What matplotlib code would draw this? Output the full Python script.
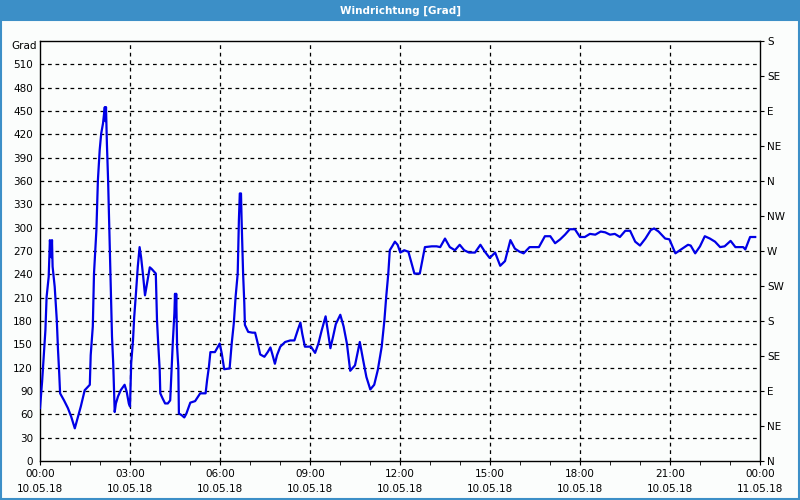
import matplotlib
matplotlib.use('Agg')
import matplotlib.pyplot as plt
from matplotlib.patches import Rectangle
from matplotlib.ticker import MultipleLocator

# Windrichtung 10.05.18, Stunden seit 00:00
hours = [0.00, 0.07, 0.13, 0.18, 0.22, 0.29, 0.33, 0.38, 0.40, 0.42, 0.49, 0.56, 0.60, 0.64, 0.67,
         0.80, 0.93, 1.04, 1.16, 1.24, 1.36, 1.49, 1.66, 1.69, 1.76, 1.80, 1.88, 1.93, 1.99, 2.04,
         2.10, 2.16, 2.18, 2.20, 2.23, 2.27, 2.30, 2.33, 2.36, 2.40, 2.44, 2.49, 2.53, 2.60, 2.69,
         2.82, 2.89, 2.96, 3.00, 3.04, 3.10, 3.14, 3.19, 3.26, 3.32, 3.37, 3.44, 3.50, 3.57, 3.66,
         3.72, 3.86, 3.90, 3.94, 3.99, 4.01, 4.08, 4.17, 4.26, 4.34, 4.39, 4.43, 4.48, 4.50, 4.52,
         4.54, 4.57, 4.61, 4.63, 4.72, 4.81, 4.88, 5.01, 5.17, 5.34, 5.52, 5.57, 5.63, 5.68, 5.83,
         5.99, 6.06, 6.14, 6.32, 6.39, 6.46, 6.52, 6.59, 6.61, 6.63, 6.66, 6.70, 6.72, 6.77, 6.81,
         6.83, 6.94, 7.08, 7.17, 7.26, 7.34, 7.48, 7.59, 7.68, 7.74, 7.83, 7.90, 8.01, 8.17, 8.34,
         8.48, 8.59, 8.68, 8.74, 8.83, 9.03, 9.17, 9.28, 9.39, 9.52, 9.59, 9.68, 9.77, 9.86, 10.01,
         10.12, 10.23, 10.34, 10.50, 10.66, 10.77, 10.88, 11.01, 11.14, 11.26, 11.39, 11.48, 11.54,
         11.61, 11.66, 11.74, 11.83, 11.92, 12.01, 12.14, 12.28, 12.48, 12.66, 12.83, 13.06, 13.22,
         13.34, 13.50, 13.66, 13.83, 13.99, 14.14, 14.30, 14.50, 14.68, 14.83, 14.99, 15.17, 15.34,
         15.50, 15.68, 15.83, 15.99, 16.12, 16.32, 16.63, 16.83, 17.01, 17.17, 17.34, 17.50, 17.66,
         17.83, 18.00, 18.16, 18.33, 18.51, 18.69, 18.84, 19.00, 19.16, 19.33, 19.51, 19.67, 19.84,
         20.00, 20.18, 20.36, 20.47, 20.62, 20.84, 20.98, 21.18, 21.33, 21.60, 21.69, 21.84, 22.00,
         22.16, 22.33, 22.50, 22.67, 22.82, 23.02, 23.18, 23.44, 23.51, 23.67, 23.84]
grad = [68, 102, 139, 168, 211, 237, 284, 262, 284, 250, 224, 181, 143, 113, 87,
        78, 68, 57, 42, 53, 70, 91, 98, 136, 173, 241, 297, 361, 400, 421,
        434, 455, 437, 455, 408, 361, 314, 271, 220, 160, 126, 63, 74, 83, 91,
        98, 89, 74, 70, 126, 155, 185, 211, 250, 275, 262, 237, 213, 229, 249,
        247, 241, 181, 151, 117, 87, 81, 74, 74, 78, 121, 155, 190, 215, 185,
        215, 147, 121, 61, 59, 56, 61, 75, 77, 87, 87, 104, 121, 140, 140,
        151, 138, 118, 119, 151, 177, 211, 241, 275, 310, 344, 344, 310, 241, 203,
        175, 166, 165, 165, 151, 137, 134, 140, 146, 138, 125, 136, 147, 153, 155,
        155, 168, 178, 164, 147, 147, 139, 151, 168, 186, 168, 145, 160, 176, 188,
        173, 151, 116, 123, 153, 130, 108, 92, 98, 117, 147, 181, 211,
        241, 271, 276, 282, 278, 268, 271, 269, 241, 241, 275, 276, 276,
        275, 286, 275, 271, 278, 271, 268, 268, 278, 269, 261, 268, 251,
        257, 284, 273, 269, 267, 275, 275, 289, 289, 280, 285, 291, 298,
        298, 288, 288, 292, 291, 295, 294, 291, 292, 288, 296, 296, 282,
        277, 286, 297, 299, 295, 286, 285, 267, 271, 278, 277, 267, 276,
        289, 286, 282, 275, 276, 283, 275, 275, 272, 288, 288]

x_ticks = [0, 3, 6, 9, 12, 15, 18, 21, 24]
x_labels = ['00:00\n10.05.18', '03:00\n10.05.18', '06:00\n10.05.18', '09:00\n10.05.18',
            '12:00\n10.05.18', '15:00\n10.05.18', '18:00\n10.05.18', '21:00\n10.05.18',
            '00:00\n11.05.18']
compass = ['N', 'NE', 'E', 'SE', 'S', 'SW', 'W', 'NW', 'N', 'NE', 'E', 'SE', 'S']

plt.rcParams['font.family'] = 'DejaVu Sans'
plt.rcParams['font.size'] = 7.5

bg = '#fbfdfc'
blue = '#3c8fc7'

fig = plt.figure(figsize=(8, 5), dpi=100, facecolor=bg)
ax = fig.add_axes([0.05, 0.078, 0.90, 0.84], facecolor=bg)

# title bar + window frame
fig.patches.append(Rectangle((0, 1 - 21 / 500), 1, 21 / 500, transform=fig.transFigure,
                             facecolor=blue, edgecolor='none', zorder=0))
fig.patches.append(Rectangle((0.001, 0.002), 0.998, 1 - 21 / 500, transform=fig.transFigure,
                             facecolor='none', edgecolor=blue, linewidth=1.5, zorder=0))
fig.text(0.5, 1 - 11 / 500, 'Windrichtung [Grad]', color='white', fontweight='bold',
         ha='center', va='center', fontsize=7.5)

ax.plot(hours, grad, color='#0000e6', linewidth=1.6, zorder=3)

ax.set_xlim(0, 24)
ax.set_ylim(0, 540)
ax.set_xticks(x_ticks)
ax.set_xticklabels(x_labels, linespacing=1.6)
ax.xaxis.set_minor_locator(MultipleLocator(1))
ax.tick_params(axis='x', which='both', length=3, direction='out', pad=3)
ax.set_yticks(range(0, 511, 30))
ax.tick_params(axis='y', length=0, pad=5)

for s in ax.spines.values():
    s.set_color('black')
    s.set_linewidth(1)

for v in range(30, 511, 30):
    ax.axhline(v, color='black', linestyle=(0, (3, 3)), linewidth=0.9, zorder=1)
for h in x_ticks[1:-1]:
    ax.axvline(h, color='black', linestyle=(0, (3, 3)), linewidth=0.9, zorder=1)

ax.text(-0.004, 540, 'Grad', transform=ax.get_yaxis_transform(), ha='right', va='top', fontsize=7.5)

ax2 = ax.twinx()
ax2.set_ylim(0, 540)
ax2.set_yticks(range(0, 541, 45))
ax2.set_yticklabels(compass)
ax2.tick_params(axis='y', length=3, direction='out', pad=2)
for s in ax2.spines.values():
    s.set_visible(False)

fig.savefig('out.png', dpi=100, facecolor=bg)
